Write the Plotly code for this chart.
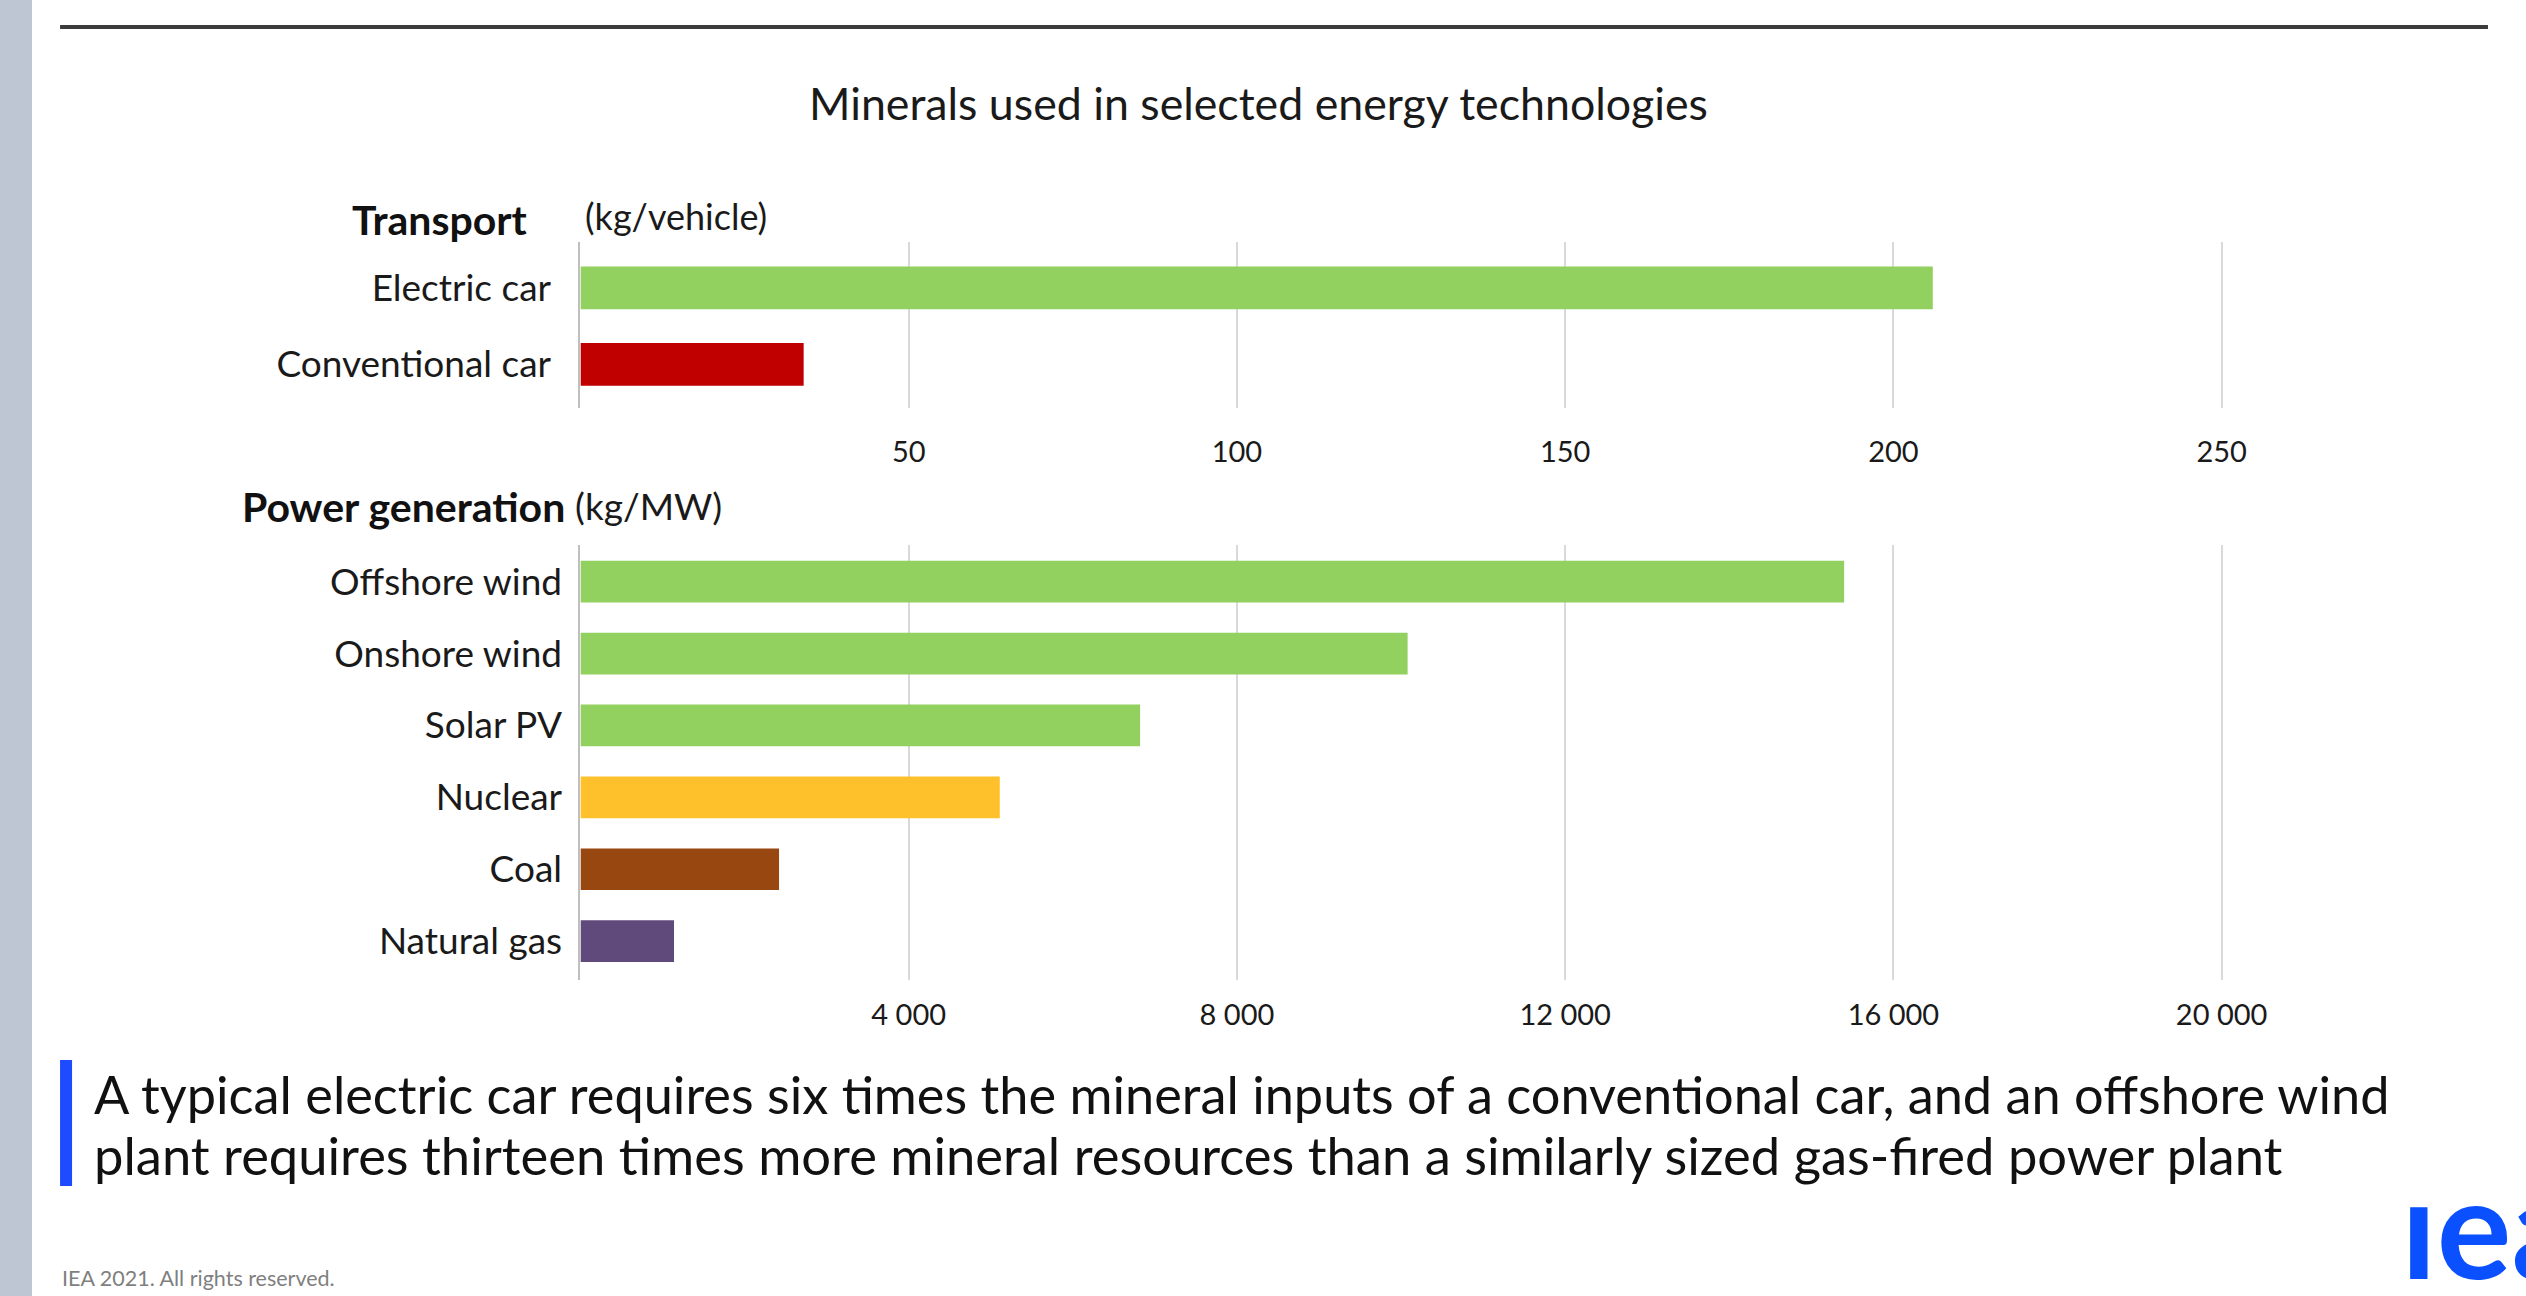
import plotly.graph_objects as go

# Reference geometry is measured in a 2526 x 1296 frame; positions are paper fractions of it.
REF_W, REF_H = 2526, 1296
FIG_W, FIG_H = 2560, 1296
def X(px): return px / REF_W
def Y(py): return 1 - py / REF_H

# ---- data ----
transport_cats = ["Electric car", "Conventional car"]
transport_vals = [206, 34]
transport_colors = ["#92D05F", "#C00000"]

power_cats = ["Offshore wind", "Onshore wind", "Solar PV", "Nuclear", "Coal", "Natural gas"]
power_vals = [15400, 10080, 6820, 5110, 2420, 1140]
power_colors = ["#92D05F", "#92D05F", "#92D05F", "#FFC12B", "#994711", "#604A7B"]

transport_ticks = [50, 100, 150, 200, 250]
power_ticks = [4000, 8000, 12000, 16000, 20000]
power_ticktext = ["4 000", "8 000", "12 000", "16 000", "20 000"]

FONT = "Lato"
fig = go.Figure()
fig.add_trace(go.Bar(y=transport_cats, x=transport_vals, orientation="h",
                     marker=dict(color=transport_colors, line=dict(width=0)),
                     width=0.56, xaxis="x", yaxis="y", hoverinfo="skip", showlegend=False))
fig.add_trace(go.Bar(y=power_cats, x=power_vals, orientation="h",
                     marker=dict(color=power_colors, line=dict(width=0)),
                     width=0.58, xaxis="x2", yaxis="y2", hoverinfo="skip", showlegend=False))

grid = "#D9D9D9"
axis_line = "#BFBFBF"
tickfont = dict(family=FONT, size=29, color="#1a1a1a")
catfont = dict(family=FONT, size=37, color="#1a1a1a")

fig.update_layout(
    width=FIG_W, height=FIG_H, autosize=False, margin=dict(l=0, r=0, t=0, b=0, pad=0),
    paper_bgcolor="white", plot_bgcolor="white",
    font=dict(family=FONT, color="#1a1a1a"),
    xaxis=dict(domain=[X(580), X(2233)], range=[0, 252], anchor="y",
               tickvals=transport_ticks, showgrid=True, gridcolor=grid, gridwidth=2,
               zeroline=False, showline=False, ticks="", tickfont=tickfont,
               ticklabelstandoff=24, fixedrange=True),
    yaxis=dict(domain=[Y(408), Y(242)], range=[1.57, -0.6], anchor="x",
               type="category", showgrid=False, zeroline=False, showline=True,
               linecolor=axis_line, linewidth=2, ticks="", tickfont=catfont,
               ticklabelstandoff=20, fixedrange=True),
    xaxis2=dict(domain=[X(580), X(2233)], range=[0, 20160], anchor="y2",
                tickvals=power_ticks, ticktext=power_ticktext, showgrid=True,
                gridcolor=grid, gridwidth=2, zeroline=False, showline=False, ticks="",
                tickfont=tickfont, ticklabelstandoff=15, fixedrange=True),
    yaxis2=dict(domain=[Y(980), Y(545)], range=[5.54, -0.51], anchor="x2",
                type="category", showgrid=False, zeroline=False, showline=True,
                linecolor=axis_line, linewidth=2, ticks="", tickfont=catfont,
                ticklabelstandoff=9, fixedrange=True),
)

shapes = [
    dict(type="rect", xref="paper", yref="paper", x0=0, x1=X(32), y0=0, y1=1,
         fillcolor="#BFC6D3", line=dict(width=0), layer="below"),
    dict(type="line", xref="paper", yref="paper", x0=X(60), x1=X(2486), y0=Y(27), y1=Y(27),
         line=dict(color="#3C3C3C", width=4)),
    dict(type="rect", xref="paper", yref="paper", x0=X(60), x1=X(72), y0=Y(1186), y1=Y(1060),
         fillcolor="#1F4BFF", line=dict(width=0)),
]
fig.update_layout(shapes=shapes)

ann = [
    dict(text="Minerals used in selected energy technologies", x=X(1258), y=Y(103),
         xanchor="center", yanchor="middle", font=dict(family=FONT, size=44.7, color="#1a1a1a")),
    dict(text="<b>Transport</b>", x=X(530), y=Y(219), xanchor="right", yanchor="middle",
         font=dict(family=FONT, size=41, color="#111")),
    dict(text="(kg/vehicle)", x=X(583), y=Y(216), xanchor="left", yanchor="middle",
         font=dict(family=FONT, size=36, color="#1a1a1a")),
    dict(text="<b>Power generation</b>", x=X(567), y=Y(506), xanchor="right", yanchor="middle",
         font=dict(family=FONT, size=41, color="#111")),
    dict(text="(kg/MW)", x=X(573), y=Y(505), xanchor="left", yanchor="middle",
         font=dict(family=FONT, size=37, color="#1a1a1a")),
    dict(text="A typical electric car requires six times the mineral inputs of a conventional car, and an offshore wind",
         x=X(92), y=Y(1093), xanchor="left", yanchor="middle", align="left",
         font=dict(family=FONT, size=52.3, color="#111")),
    dict(text="plant requires thirteen times more mineral resources than a similarly sized gas-fired power plant",
         x=X(92), y=Y(1154), xanchor="left", yanchor="middle", align="left",
         font=dict(family=FONT, size=52.5, color="#111")),
    dict(text="IEA 2021. All rights reserved.", x=X(60), y=Y(1278), xanchor="left", yanchor="middle",
         font=dict(family=FONT, size=21.5, color="#7F7F7F")),
    dict(text="<b>ıea</b>", x=X(2398), y=Y(1310), xanchor="left", yanchor="bottom",
         width=FIG_W * (1 - X(2398)), height=110, align="left", valign="bottom", borderpad=0,
         font=dict(family=FONT, size=140, color="#0A50FF")),
]
for a in ann:
    a.update(xref="paper", yref="paper", showarrow=False)
fig.update_layout(annotations=ann)

post = ("document.documentElement.style.margin='0';document.body.style.margin='0';"
        "document.documentElement.style.overflow='hidden';document.body.style.overflow='hidden';")
fig.write_html("out.html", config={"displayModeBar": False, "responsive": False},
               post_script=post)
